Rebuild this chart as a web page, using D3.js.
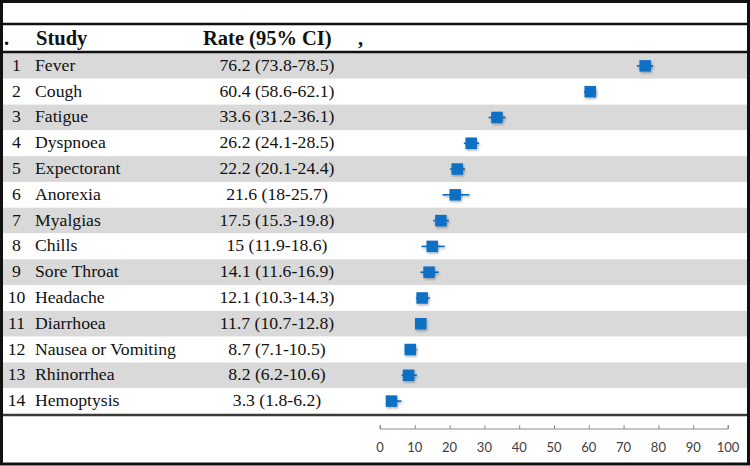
<!DOCTYPE html>
<html><head><meta charset="utf-8">
<script src="https://cdn.jsdelivr.net/npm/d3@7"></script>
<style>body{margin:0;background:#fff}svg{display:block}</style>
</head><body>
<svg id="c" width="750" height="466"></svg>
<script>
const studies = ["Fever","Cough","Fatigue","Dyspnoea","Expectorant","Anorexia","Myalgias","Chills","Sore Throat","Headache","Diarrhoea","Nausea or Vomiting","Rhinorrhea","Hemoptysis"];
const rates = [76.2,60.4,33.6,26.2,22.2,21.6,17.5,15,14.1,12.1,11.7,8.7,8.2,3.3];
const lower = [73.8,58.6,31.2,24.1,20.1,18,15.3,11.9,11.6,10.3,10.7,7.1,6.2,1.8];
const upper = [78.5,62.1,36.1,28.5,24.4,25.7,19.8,18.6,16.9,14.3,12.8,10.5,10.6,6.2];
const xTicks = [0,10,20,30,40,50,60,70,80,90,100];

const svg = d3.select("#c");
const W = 750, H = 466;
const rowTop = 53, rowBot = 414;
const idx = d3.range(studies.length);
const y = d3.scaleBand().domain(idx).range([rowTop, rowBot]).padding(0);
const x = d3.scaleLinear().domain([0,100]).range([380, 728]);
const serif = "'Liberation Serif','Times New Roman',serif";
const blue = "#0e6fc5";
const fs = 17.7;

// bands
svg.selectAll("rect.band").data(idx).enter().append("rect")
  .attr("x", 2).attr("width", W-4)
  .attr("y", d => y(d)).attr("height", y.bandwidth())
  .attr("fill", d => d % 2 === 0 ? "#d9d9d9" : "#ffffff");

// shadow filter
const defs = svg.append("defs");
const f = defs.append("filter").attr("id","sh").attr("filterUnits","userSpaceOnUse")
  .attr("x",0).attr("y",0).attr("width",W).attr("height",H);
f.append("feDropShadow").attr("dx",1).attr("dy",1.5).attr("stdDeviation",1).attr("flood-color","#000").attr("flood-opacity",0.3);

// header
const hy = 45;
const hdr = (xx, t) => svg.append("text").attr("x",xx).attr("y",hy).attr("font-family",serif)
  .attr("font-weight","bold").attr("font-size",20.5).attr("fill","#111").text(t);
hdr(4, ".");
hdr(36, "Study");
hdr(203, "Rate (95% CI)");
hdr(358, ",");

// row text
const rows = svg.selectAll("g.row").data(idx).enter().append("g");
const by = d => y(d) + y.bandwidth()/2 + 5;
rows.append("text").attr("x",16.5).attr("y", by)
  .attr("text-anchor","middle").attr("font-family",serif).attr("font-size",fs).attr("fill","#111").text(d => d+1);
rows.append("text").attr("x",35).attr("y", by)
  .attr("font-family",serif).attr("font-size",fs).attr("fill","#111").text(d => studies[d]);
rows.append("text").attr("x",277).attr("y", by)
  .attr("text-anchor","middle").attr("font-family",serif).attr("font-size",fs).attr("fill","#111")
  .text(d => `${rates[d]} (${lower[d]}-${upper[d]})`);

// CI lines and markers
const cy = d => y(d) + y.bandwidth()/2;
rows.append("line").attr("x1", d => x(lower[d])).attr("x2", d => x(upper[d]))
  .attr("y1", cy).attr("y2", cy)
  .attr("stroke", blue).attr("stroke-width",1.6).attr("filter","url(#sh)");
const ms = 11.5;
rows.append("rect").attr("x", d => x(rates[d])-ms/2).attr("y", d => cy(d)-ms/2)
  .attr("width", ms).attr("height", ms).attr("fill", blue).attr("filter","url(#sh)");

// axis
const axisY = 429;
const ax = svg.append("g").attr("transform",`translate(0,${axisY})`)
  .call(d3.axisTop(x).tickValues(xTicks).tickSize(4).tickFormat(""));
ax.select(".domain").attr("stroke","#8c8c8c").attr("d", `M${x(0)},-4V0H${x(100)}V-4`);
ax.selectAll(".tick line").attr("stroke","#8c8c8c");
svg.append("g").selectAll("text").data(xTicks).enter().append("text")
  .attr("x", d => x(d)).attr("y", 452).attr("text-anchor","middle")
  .attr("font-family","Lato, 'Open Sans', sans-serif").attr("font-size",13).attr("fill","#404040").text(d => d);

// frame lines
svg.append("line").attr("x1",0).attr("x2",W).attr("y1",24).attr("y2",24).attr("stroke","#111").attr("stroke-width",2.5);
svg.append("line").attr("x1",0).attr("x2",W).attr("y1",52).attr("y2",52).attr("stroke","#111").attr("stroke-width",2.5);
svg.append("line").attr("x1",0).attr("x2",W).attr("y1",415).attr("y2",415).attr("stroke","#3a3a3a").attr("stroke-width",2.5);
svg.append("rect").attr("x",1.5).attr("y",1.5).attr("width",W-3).attr("height",H-3.5)
  .attr("fill","none").attr("stroke","#111").attr("stroke-width",3);
</script>
</body></html>
